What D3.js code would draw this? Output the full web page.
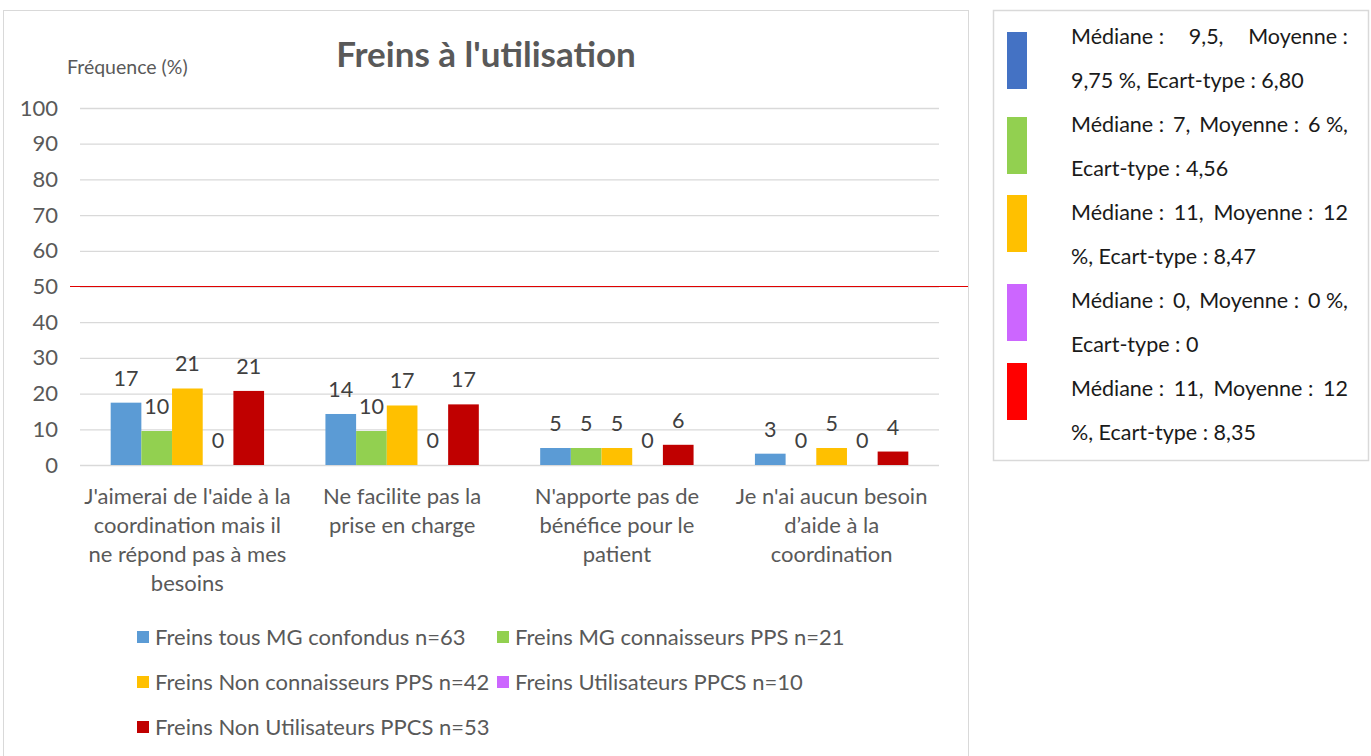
<!DOCTYPE html>
<html>
<head>
<meta charset="utf-8">
<script src="https://cdn.jsdelivr.net/npm/d3@7"></script>
<style>
  body { margin: 0; background: #fff; }
  svg { display: block; font-family: Lato, "Open Sans", sans-serif; }
</style>
</head>
<body>
<div id="chart"></div>
<script>
// values (percent)
const categories = [
    "J'aimerai de l'aide à la|coordination mais il|ne répond pas à mes|besoins",
    "Ne facilite pas la|prise en charge",
    "N'apporte pas de|bénéfice pour le|patient",
    "Je n'ai aucun besoin|d’aide à la|coordination"
]
const seriesNames = [
    "Freins tous MG confondus n=63",
    "Freins MG connaisseurs PPS n=21",
    "Freins Non connaisseurs PPS n=42",
    "Freins Utilisateurs PPCS n=10",
    "Freins Non Utilisateurs PPCS n=53"
]
const tousMG = [17.46, 14.29, 4.76, 3.17]
const connaisseurs = [9.52, 9.52, 4.76, 0]
const nonConnaisseurs = [21.43, 16.67, 4.76, 4.76]
const utilisateurs = [0, 0, 0, 0]
const nonUtilisateurs = [20.75, 16.98, 5.66, 3.77]
const yTicks = [0, 10, 20, 30, 40, 50, 60, 70, 80, 90, 100]
const seuil = 50
// line breaks of the stats box, as in the picture (non-breaking space before ":" and "%")
const statsLines = [
    ["Médiane\u00a0: 9,5, Moyenne\u00a0:", "9,75 %, Ecart-type : 6,80"],
    ["Médiane\u00a0: 7, Moyenne\u00a0: 6\u00a0%,", "Ecart-type : 4,56"],
    ["Médiane\u00a0: 11, Moyenne\u00a0: 12", "%, Ecart-type : 8,47"],
    ["Médiane\u00a0: 0, Moyenne\u00a0: 0\u00a0%,", "Ecart-type : 0"],
    ["Médiane\u00a0: 11, Moyenne\u00a0: 12", "%, Ecart-type : 8,35"]
]

const seriesValues = [tousMG, connaisseurs, nonConnaisseurs, utilisateurs, nonUtilisateurs]
const barColors = ["#5B9BD5", "#92D050", "#FFC000", "#CC66FF", "#C00000"]
const statColors = ["#4472C4", "#92D050", "#FFC000", "#CC66FF", "#FF0000"]

const W = 1371, H = 756
const textGrey = "#595959"

const svg = d3.select("#chart").append("svg")
    .attr("width", W)
    .attr("height", H)

// chart frame (runs off the bottom of the picture)
svg.append("rect")
    .attr("x", 3.5).attr("y", 10.5)
    .attr("width", 965).attr("height", 800)
    .attr("fill", "#fff")
    .attr("stroke", "#d9d9d9")

const plotLeft = 80, plotRight = 939, plotTop = 108, plotBottom = 465

const y = d3.scaleLinear().domain([0, 100]).range([plotBottom, plotTop])
const x0 = d3.scaleBand()
    .domain(d3.range(categories.length))
    .range([plotLeft, plotRight])
    .paddingInner(2 / 7)
    .paddingOuter(1 / 7)
const x1 = d3.scaleBand()
    .domain(d3.range(seriesNames.length))
    .range([0, x0.bandwidth()])

// gridlines + y labels
const yAxis = svg.append("g")
    .attr("transform", "translate(" + plotLeft + ",0)")
    .call(d3.axisLeft(y)
        .tickValues(yTicks)
        .tickSize(-(plotRight - plotLeft))
        .tickPadding(22))
yAxis.select(".domain").remove()
yAxis.selectAll("line").attr("stroke", "#d9d9d9").attr("stroke-width", 1.3)
yAxis.selectAll("text")
    .attr("fill", textGrey)
    .attr("font-size", 22)
    .attr("font-family", "Lato, sans-serif")

// 50 % reference line
svg.append("line")
    .attr("x1", 70).attr("x2", 968)
    .attr("y1", y(seuil)).attr("y2", y(seuil))
    .attr("stroke", "#e00000")
    .attr("stroke-width", 1.2)

// bars
const groups = svg.append("g").selectAll("g")
    .data(categories)
    .enter().append("g")
    .attr("transform", (d, i) => "translate(" + x0(i) + ",0)")

groups.selectAll("rect")
    .data((d, i) => seriesValues.map((vals, s) => ({ s: s, v: vals[i] })))
    .enter().append("rect")
    .attr("x", d => x1(d.s))
    .attr("width", x1.bandwidth())
    .attr("y", d => y(d.v))
    .attr("height", d => y(0) - y(d.v))
    .attr("fill", d => barColors[d.s])

const fmt = d3.format(".0f")
groups.selectAll("text")
    .data((d, i) => seriesValues.map((vals, s) => ({ s: s, v: vals[i] })))
    .enter().append("text")
    .attr("x", d => x1(d.s) + x1.bandwidth() / 2)
    .attr("y", d => y(d.v) - 17)
    .attr("text-anchor", "middle")
    .attr("fill", "#404040")
    .attr("font-size", 21.5)
    .text(d => fmt(d.v))

// category labels
const xAxis = svg.append("g")
    .attr("transform", "translate(0," + plotBottom + ")")
    .call(d3.axisBottom(x0).tickSize(0).tickFormat(""))
xAxis.select(".domain").remove()
xAxis.selectAll(".tick").each(function(d) {
    const t = d3.select(this).append("text")
        .attr("text-anchor", "middle")
        .attr("fill", textGrey)
        .attr("font-size", 22)
        .attr("font-family", "Lato, sans-serif")
    categories[d].split("|").forEach((line, k) => {
        t.append("tspan").attr("x", 0).attr("y", 39 + k * 29).text(line)
    })
})

// title + y label
svg.append("text")
    .attr("x", 486).attr("y", 67)
    .attr("text-anchor", "middle")
    .attr("fill", textGrey)
    .attr("font-size", 35)
    .attr("font-weight", "bold")
    .text("Freins à l'utilisation")

svg.append("text")
    .attr("x", 67).attr("y", 74)
    .attr("fill", textGrey)
    .attr("font-size", 19.5)
    .text("Fréquence (%)")

// bottom legend
const legendPos = [[137, 637], [497, 637], [137, 682], [497, 682], [137, 727]]
const legend = svg.append("g").selectAll("g")
    .data(seriesNames)
    .enter().append("g")
    .attr("transform", (d, i) => "translate(" + legendPos[i][0] + "," + legendPos[i][1] + ")")
legend.append("rect")
    .attr("x", 0).attr("y", -6)
    .attr("width", 12).attr("height", 12)
    .attr("fill", (d, i) => barColors[i])
legend.append("text")
    .attr("x", 18).attr("y", 8)
    .attr("fill", textGrey)
    .attr("font-size", 22)
    .text(d => d)

// stats box on the right
svg.append("rect")
    .attr("x", 993.5).attr("y", 10.5)
    .attr("width", 375).attr("height", 450)
    .attr("fill", "#fff")
    .attr("stroke", "#d9d9d9")
    .attr("stroke-width", 1.5)

const statX = 1071, statW = 277
const stats = svg.append("g").selectAll("g")
    .data(statsLines)
    .enter().append("g")
    .attr("transform", (d, i) => "translate(0," + (i * 88) + ")")
stats.append("rect")
    .attr("x", 1007).attr("y", (d, i) => [32, 29, 19, 20, 11][i])
    .attr("width", 20).attr("height", 57)
    .attr("fill", (d, i) => statColors[i])

stats.each(function(lines, i) {
    const g = d3.select(this)
    lines.forEach((line, k) => {
        const t = g.append("text")
            .attr("y", 44 + k * 44)
            .attr("fill", "#1a1a1a")
            .attr("font-size", 21.5)
        if (k === 0) {
            // justified first line, only ordinary spaces stretch
            const words = line.split(" ")
            const spans = words.map(w => t.append("tspan").text(w))
            const widths = spans.map(s => s.node().getComputedTextLength())
            const gap = (statW - d3.sum(widths)) / (words.length - 1)
            let cx = statX
            spans.forEach((s, j) => { s.attr("x", cx); cx += widths[j] + gap })
        } else {
            t.attr("x", statX).text(line)
        }
    })
})
</script>
</body>
</html>
